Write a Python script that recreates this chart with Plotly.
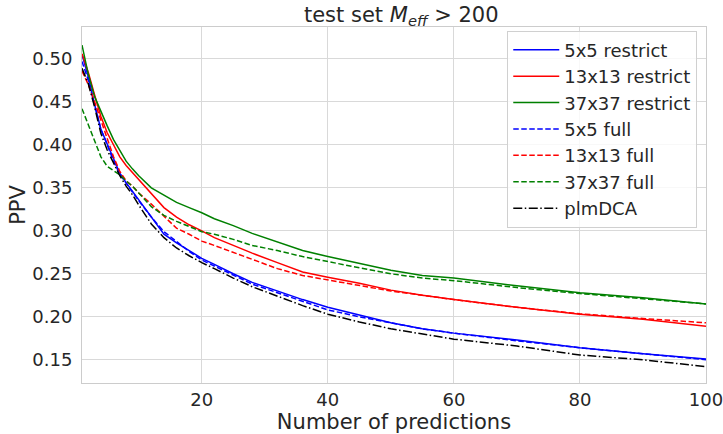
import plotly.graph_objects as go

# number of predictions
x_vals = [1, 2, 3, 4, 5, 6, 7, 8, 9, 10, 12, 14, 16, 18, 20, 22, 25, 28, 32, 36,
          40, 45, 50, 55, 60, 70, 80, 90, 100]

# PPV values
ppv_5_restrict = [0.505, 0.479, 0.447, 0.418, 0.401, 0.383, 0.367, 0.356, 0.346, 0.336,
                  0.315, 0.296, 0.286, 0.277, 0.268, 0.261, 0.250, 0.240, 0.230, 0.220,
                  0.211, 0.202, 0.193, 0.186, 0.181, 0.173, 0.164, 0.157, 0.151]
ppv_13_restrict = [0.506, 0.484, 0.458, 0.433, 0.414, 0.399, 0.386, 0.376, 0.368, 0.360,
                   0.343, 0.327, 0.316, 0.307, 0.300, 0.292, 0.283, 0.274, 0.263, 0.252,
                   0.246, 0.239, 0.231, 0.225, 0.220, 0.211, 0.203, 0.197, 0.189]
ppv_37_restrict = [0.516, 0.482, 0.456, 0.438, 0.422, 0.406, 0.393, 0.381, 0.372, 0.364,
                   0.350, 0.341, 0.333, 0.327, 0.321, 0.314, 0.306, 0.297, 0.287, 0.277,
                   0.270, 0.262, 0.254, 0.248, 0.245, 0.236, 0.228, 0.222, 0.215]
ppv_5_full = [0.497, 0.475, 0.446, 0.418, 0.400, 0.381, 0.366, 0.355, 0.345, 0.335,
              0.316, 0.299, 0.287, 0.276, 0.266, 0.259, 0.249, 0.238, 0.228, 0.218,
              0.208, 0.200, 0.193, 0.186, 0.181, 0.172, 0.164, 0.157, 0.150]
ppv_13_full = [0.486, 0.470, 0.450, 0.428, 0.408, 0.386, 0.369, 0.358, 0.352, 0.344,
               0.331, 0.317, 0.303, 0.296, 0.288, 0.283, 0.275, 0.267, 0.256, 0.248,
               0.243, 0.237, 0.230, 0.225, 0.220, 0.211, 0.2035, 0.198, 0.193]
ppv_37_full = [0.442, 0.424, 0.404, 0.386, 0.375, 0.370, 0.365, 0.358, 0.352, 0.344,
               0.328, 0.318, 0.311, 0.305, 0.299, 0.296, 0.290, 0.283, 0.277, 0.270,
               0.264, 0.257, 0.250, 0.245, 0.242, 0.234, 0.227, 0.221, 0.215]
ppv_plmdca = [0.489, 0.471, 0.444, 0.413, 0.394, 0.378, 0.364, 0.352, 0.342, 0.330,
              0.308, 0.292, 0.280, 0.271, 0.263, 0.256, 0.245, 0.235, 0.224, 0.213,
              0.203, 0.194, 0.186, 0.180, 0.174, 0.166, 0.1555, 0.150, 0.142]

y_ticks = [0.15, 0.20, 0.25, 0.30, 0.35, 0.40, 0.45, 0.50]
x_ticks = [20, 40, 60, 80, 100]

series = [
    ("5x5 restrict", ppv_5_restrict, "#0000ff", "solid"),
    ("13x13 restrict", ppv_13_restrict, "#ff0000", "solid"),
    ("37x37 restrict", ppv_37_restrict, "#008000", "solid"),
    ("5x5 full", ppv_5_full, "#0000ff", "5.5px,2.5px"),
    ("13x13 full", ppv_13_full, "#ff0000", "5.5px,2.5px"),
    ("37x37 full", ppv_37_full, "#008000", "5.5px,2.5px"),
    ("plmDCA", ppv_plmdca, "#000000", "9px,2.5px,1.5px,2.5px"),
]

fig = go.Figure()
for name, ys, color, dash in series:
    fig.add_trace(go.Scatter(x=x_vals, y=ys, mode="lines", name=name,
                             line=dict(color=color, width=1.5, dash=dash)))

axis_style = dict(showgrid=True, gridcolor="#d9d9d9", gridwidth=1,
                  showline=True, linecolor="#cccccc", linewidth=1, mirror=True,
                  zeroline=False, ticks="", automargin=False, ticklabeloverflow="allow",
                  tickfont=dict(size=18, color="#262626"))

fig.update_layout(
    width=723, height=434,
    margin=dict(l=82, r=17, t=27, b=51),
    paper_bgcolor="white", plot_bgcolor="white",
    font=dict(family="DejaVu Sans", color="#262626"),
    title=dict(text="test set <i>M</i><sub><i>eff</i></sub> > 200",
               x=0.555, xanchor="center", y=0.967, yanchor="middle",
               font=dict(size=21, color="#262626")),
    legend=dict(x=0.986, y=0.99, xanchor="right", yanchor="top",
                bgcolor="rgba(255,255,255,0.8)", bordercolor="#d0d0d0", borderwidth=1,
                font=dict(size=18, color="#262626"), tracegroupgap=0, itemwidth=46),
    showlegend=True,
)
fig.update_xaxes(range=[1, 100], tickvals=x_ticks, title=dict(text="Number of predictions",
                 font=dict(size=21, color="#262626"), standoff=6), **axis_style)
fig.update_yaxes(range=[0.123, 0.537], tickvals=y_ticks, tickformat=".2f",
                 ticklabelstandoff=5,
                 title=dict(text="PPV", font=dict(size=21, color="#262626"), standoff=0),
                 **axis_style)

fig.write_html("out.html", config={"displayModeBar": False},
               post_script="document.body.style.margin='0';document.body.style.overflow='hidden';")
